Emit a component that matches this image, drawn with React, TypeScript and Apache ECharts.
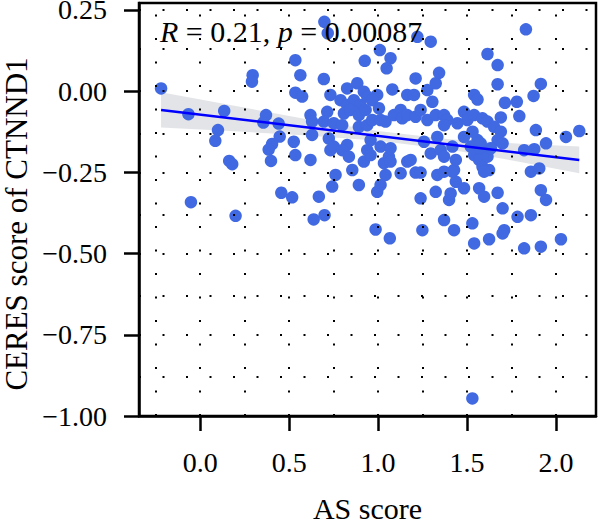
import React, { useEffect, useRef } from "react";
import * as echarts from "echarts";

const xTicks = [0, 0.5, 1.0, 1.5, 2.0];
const yTicks = [-1.0, -0.75, -0.5, -0.25, 0, 0.25];
const xGrid = [-0.25, 0, 0.25, 0.5, 0.75, 1.0, 1.25, 1.5, 1.75, 2.0];
const yGrid = [-0.875, -0.75, -0.625, -0.5, -0.375, -0.25, -0.125, 0, 0.125, 0.25];

const points: [number, number][] = [
  [-0.22, 0.008], [-0.066, -0.071], [0.135, -0.061], [0.1, -0.12], [0.085, -0.153],
  [0.163, -0.215], [0.18, -0.225], [-0.052, -0.342], [0.199, -0.384], [0.295, 0.049],
  [0.291, 0.029], [0.37, -0.074], [0.355, -0.097], [0.441, -0.1], [0.447, -0.14],
  [0.404, -0.163], [0.385, -0.18], [0.398, -0.215], [0.456, -0.313], [0.517, -0.327],
  [0.535, 0.095], [0.563, 0.049], [0.535, -0.005], [0.573, -0.017], [0.526, -0.156],
  [0.535, -0.197], [0.698, 0.213], [0.717, 0.178], [1.221, 0.167], [1.296, 0.152],
  [1.831, 0.19], [1.01, 0.126], [0.925, 0.093], [1.07, 0.101], [1.048, 0.07],
  [1.615, 0.114], [1.672, 0.08], [0.695, 0.037], [1.211, 0.039], [1.343, 0.056],
  [1.324, 0.024], [1.672, 0.021], [1.915, 0.022], [1.874, -0.015], [0.732, -0.012],
  [0.826, 0.008], [0.883, 0.024], [0.92, -0.002], [1.08, 0.005], [0.995, -0.012],
  [1.164, -0.012], [1.202, -0.012], [1.277, 0.003], [1.305, -0.033], [1.54, -0.012],
  [1.559, -0.026], [1.713, -0.036], [1.78, -0.033], [1.794, -0.077], [1.69, -0.081],
  [0.789, -0.028], [0.826, -0.043], [0.864, -0.028], [0.901, -0.043], [0.939, -0.017],
  [0.967, -0.028], [1.005, -0.053], [0.808, -0.069], [0.845, -0.058], [0.892, -0.074],
  [0.93, -0.058], [0.62, -0.074], [0.629, -0.094], [0.714, -0.064], [0.695, -0.094],
  [0.751, -0.099], [0.798, -0.105], [0.892, -0.11], [0.939, -0.105], [0.967, -0.089],
  [1.014, -0.089], [1.042, -0.094], [1.089, -0.074], [1.127, -0.058], [1.136, -0.084],
  [1.164, -0.074], [1.211, -0.079], [1.239, -0.058], [1.277, -0.089], [1.324, -0.074],
  [1.371, -0.074], [1.389, -0.089], [1.446, -0.099], [1.483, -0.064], [1.502, -0.089],
  [1.54, -0.074], [1.587, -0.084], [1.615, -0.094], [1.652, -0.11], [1.69, -0.125],
  [1.887, -0.12], [2.056, -0.141], [2.131, -0.123], [1.944, -0.161], [1.821, -0.182],
  [1.878, -0.179], [1.859, -0.248], [1.906, -0.238], [1.915, -0.305], [1.944, -0.335],
  [1.7, -0.361], [1.784, -0.387], [1.859, -0.382], [1.709, -0.428], [1.7, -0.438],
  [1.821, -0.484], [1.915, -0.479], [2.028, -0.456], [1.54, -0.469], [1.624, -0.456],
  [1.53, -0.407], [1.427, -0.428], [1.371, -0.397], [1.249, -0.428], [1.066, -0.453],
  [0.986, -0.426], [0.638, -0.395], [0.699, -0.382], [0.667, -0.325], [0.742, -0.294],
  [0.761, -0.258], [0.892, -0.289], [0.995, -0.31], [1.014, -0.289], [1.239, -0.33],
  [1.324, -0.31], [1.399, -0.335], [1.437, -0.279], [1.483, -0.299], [1.568, -0.299],
  [1.596, -0.325], [1.672, -0.313], [0.629, -0.135], [0.62, -0.212], [0.723, -0.146],
  [0.732, -0.182], [0.751, -0.171], [0.826, -0.166], [0.798, -0.182], [0.836, -0.202],
  [0.855, -0.243], [0.92, -0.217], [0.939, -0.182], [0.958, -0.151], [0.958, -0.197],
  [1.014, -0.171], [1.033, -0.222], [1.042, -0.258], [1.061, -0.202], [1.07, -0.176],
  [1.127, -0.253], [1.164, -0.217], [1.183, -0.212], [1.211, -0.251], [1.239, -0.251],
  [1.258, -0.156], [1.296, -0.192], [1.333, -0.141], [1.352, -0.182], [1.371, -0.202],
  [1.418, -0.171], [1.437, -0.212], [1.427, -0.243], [1.333, -0.258], [1.371, -0.248],
  [1.418, -0.248], [1.521, -0.171], [1.54, -0.197], [1.577, -0.182], [1.568, -0.212],
  [1.587, -0.233], [1.615, -0.202], [1.624, -0.243], [1.596, -0.248], [1.483, -0.141],
  [1.559, -0.151], [1.672, -0.151], [1.7, -0.161], [1.53, -0.946], [1.07, -0.217],
  [1.531, -0.125], [1.577, -0.161], [1.634, -0.176], [1.371, -0.105], [1.408, -0.315],
];

const fitX = [-0.22, 2.131];
const fitY = [-0.058, -0.212];

const bandX = [-0.22, 0.2, 0.6, 1.0, 1.4, 1.8, 2.131];
const bandHi = [-0.004, -0.046, -0.087, -0.123, -0.148, -0.162, -0.171];
const bandLo = [-0.112, -0.124, -0.137, -0.153, -0.18, -0.218, -0.253];

const annotation = { r: "0.21", p: "0.00087" };
const xTitle = "AS score";
const yTitle = "CERES score of CTNND1";

const FONT = "'Liberation Serif', 'Times New Roman', serif";

export default function App() {
  const ref = useRef<HTMLDivElement>(null);
  useEffect(() => {
    if (!ref.current) return;
    const chart = echarts.init(ref.current, null, { renderer: "svg" });
    const dotted = { color: "#000", width: 2, type: [2, 21.5] as any };
    const fmtY = (v: number) => (v < 0 ? "\u2212" : "") + Math.abs(v).toFixed(2);
    const fmtX = (v: number) => (v < 0 ? "\u2212" : "") + Math.abs(v).toFixed(1);
    chart.setOption({
      animation: false,
      backgroundColor: "#fff",
      grid: {
        left: 139, right: 4, top: 3, bottom: 107,
        outerBoundsMode: "none", containLabel: false,
        show: true, borderColor: "#000", borderWidth: 2.5, backgroundColor: "transparent",
      },
      xAxis: {
        type: "value", min: -0.344, max: 2.225,
        name: xTitle, nameLocation: "middle", nameGap: 77,
        nameTextStyle: { fontFamily: FONT, fontSize: 30, color: "#000" },
        axisLine: { show: true, onZero: false, lineStyle: { color: "#000", width: 2.5 } },
        axisTick: { show: true, length: 15, customValues: xTicks, lineStyle: { color: "#000", width: 2.5 } },
        axisLabel: { customValues: xTicks, formatter: fmtX, margin: 32, fontFamily: FONT, fontSize: 28, color: "#000" },
        splitLine: { show: false },
      },
      yAxis: {
        type: "value", min: -1.0, max: 0.271,
        axisLine: { show: true, onZero: false, lineStyle: { color: "#000", width: 2.5 } },
        axisTick: { show: true, length: 15, customValues: yTicks, lineStyle: { color: "#000", width: 2.5 } },
        axisLabel: { customValues: yTicks, formatter: fmtY, margin: 32, fontFamily: FONT, fontSize: 28, color: "#000" },
        splitLine: { show: false },
      },
      graphic: [
        {
          type: "text", left: 160, top: 16, z: 100,
          style: {
            text: `{i|R} = ${annotation.r}, {i|p} = ${annotation.p}`,
            font: `30px ${FONT}`, fill: "#000",
            rich: { i: { fontStyle: "italic", fontFamily: FONT, fontSize: 30, fill: "#000" } } as any,
          },
        },
        {
          type: "text", x: 16, y: 224, rotation: Math.PI / 2, z: 100,
          style: {
            text: yTitle, font: `31px ${FONT}`, fill: "#000",
            align: "center", verticalAlign: "middle",
          },
        },
      ],
      series: [
        {
          type: "custom", name: "band", silent: true, z: 1,
          data: [[bandX[0], bandHi[0]]],
          renderItem: (params: any, api: any) => {
            const pts: number[][] = [];
            for (let i = 0; i < bandX.length; i++) pts.push(api.coord([bandX[i], bandHi[i]]));
            for (let i = bandX.length - 1; i >= 0; i--) pts.push(api.coord([bandX[i], bandLo[i]]));
            return { type: "polygon", shape: { points: pts }, style: { fill: "rgba(160,165,175,0.3)" } };
          },
          markLine: {
            silent: true, symbol: "none", label: { show: false },
            lineStyle: dotted,
            data: [
              ...xGrid.map((v) => ({ xAxis: v })),
              ...yGrid.map((v) => ({ yAxis: v })),
            ],
          },
        },
        {
          type: "scatter", name: "points", z: 2,
          symbolSize: 12.5,
          itemStyle: { color: "#4169E1", opacity: 1 },
          data: points,
        },
        {
          type: "line", name: "fit", z: 3, symbol: "none",
          lineStyle: { color: "#0000FF", width: 2.5 },
          data: fitX.map((x, i) => [x, fitY[i]]),
        },
      ],
    });
    return () => chart.dispose();
  }, []);
  return <div ref={ref} style={{ position: "fixed", left: 0, top: 0, width: 600, height: 523 }} />;
}
